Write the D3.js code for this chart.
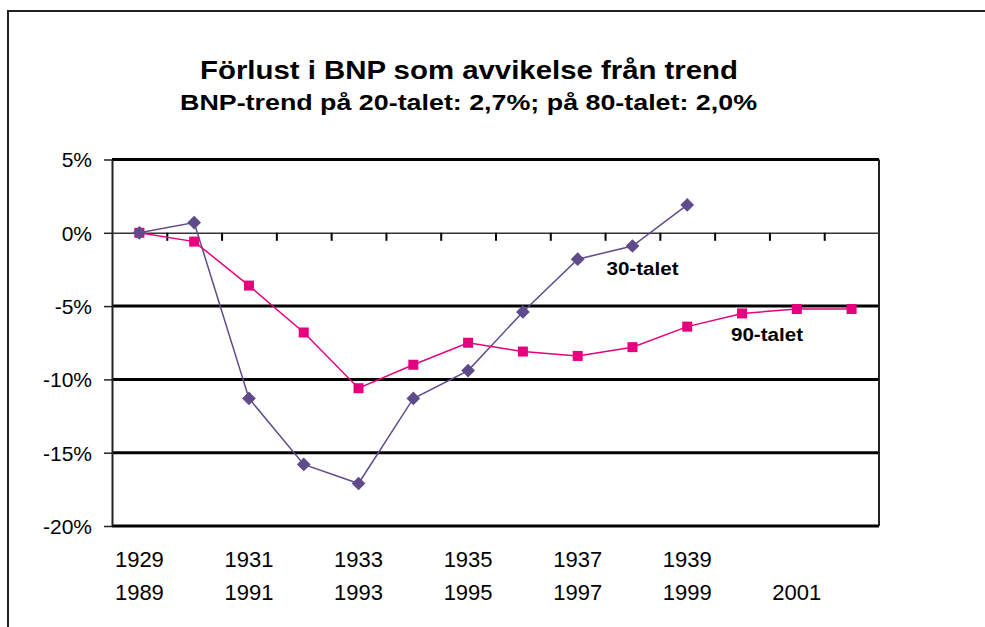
<!DOCTYPE html>
<html>
<head>
<meta charset="utf-8">
<script src="https://cdn.jsdelivr.net/npm/d3@7"></script>
<style>
  body { margin: 0; background: #fff; }
  text { font-family: "Liberation Sans", Arial, sans-serif; fill: #000; }
</style>
</head>
<body>
<div id="chart"></div>
<script>
const years30 = ["1929","1930","1931","1932","1933","1934","1935","1936","1937","1938","1939","1940","1941","1942"];
const years90 = ["1989","1990","1991","1992","1993","1994","1995","1996","1997","1998","1999","2000","2001","2002"];
const talet30 = [0, 0.7, -11.3, -15.8, -17.1, -11.3, -9.4, -5.4, -1.8, -0.9, 1.9];
const talet90 = [0, -0.6, -3.6, -6.8, -10.6, -9.0, -7.5, -8.1, -8.4, -7.8, -6.4, -5.5, -5.2, -5.2];
const row1Labels = ["1929","1931","1933","1935","1937","1939"];
const row2Labels = ["1989","1991","1993","1995","1997","1999","2001"];
const yTicks = [5, 0, -5, -10, -15, -20];

const W = 985, H = 627;
const plot = {left: 112, right: 879, top: 159.5, bottom: 526};

const svg = d3.select("#chart")
  .append("svg")
  .attr("width", W)
  .attr("height", H);

// outer frame
svg.append("rect")
  .attr("x", 8).attr("y", 11)
  .attr("width", 1000).attr("height", 700)
  .attr("fill", "none")
  .attr("stroke", "#222")
  .attr("stroke-width", 2);

svg.append("text")
  .attr("x", 469).attr("y", 79)
  .attr("text-anchor", "middle")
  .attr("font-size", 26).attr("font-weight", "bold")
  .attr("textLength", 538).attr("lengthAdjust", "spacingAndGlyphs")
  .text("Förlust i BNP som avvikelse från trend");

svg.append("text")
  .attr("x", 468.5).attr("y", 110)
  .attr("text-anchor", "middle")
  .attr("font-size", 22).attr("font-weight", "bold")
  .attr("textLength", 577).attr("lengthAdjust", "spacingAndGlyphs")
  .text("BNP-trend på 20-talet: 2,7%; på 80-talet: 2,0%");

const x = d3.scaleBand()
  .domain(years90)
  .range([plot.left, plot.right]);

const xEdge = d3.scaleLinear()
  .domain([0, years90.length])
  .range([plot.left, plot.right]);

const y = d3.scaleLinear()
  .domain([-20, 5])
  .range([plot.bottom, plot.top]);

// gridlines
svg.append("g")
  .selectAll("line")
  .data(yTicks.filter(d => d !== 0))
  .enter()
  .append("line")
  .attr("x1", plot.left).attr("x2", plot.right)
  .attr("y1", d => y(d)).attr("y2", d => y(d))
  .attr("stroke", "#000")
  .attr("stroke-width", 3);

// right border
svg.append("line")
  .attr("x1", plot.right).attr("x2", plot.right)
  .attr("y1", plot.top).attr("y2", plot.bottom)
  .attr("stroke", "#222")
  .attr("stroke-width", 2);

// y axis
const yAxis = svg.append("g")
  .attr("transform", `translate(${plot.left},0)`)
  .call(d3.axisLeft(y)
    .tickValues(yTicks)
    .tickSize(8)
    .tickPadding(12)
    .tickSizeOuter(0)
    .tickFormat(d => d + "%"));
yAxis.selectAll("line").attr("stroke", "#222").attr("stroke-width", 1.5);
yAxis.select(".domain").attr("stroke", "#222").attr("stroke-width", 2);
yAxis.selectAll("text")
  .attr("font-size", 21)
  .attr("font-family", "Liberation Sans, Arial, sans-serif")
  .attr("fill", "#000")
  .attr("dy", "0.35em");

// zero line with category ticks
const xAxis = svg.append("g")
  .attr("transform", `translate(0,${y(0)})`)
  .call(d3.axisBottom(xEdge)
    .tickValues(d3.range(1, years90.length))
    .tickSize(8)
    .tickSizeOuter(0)
    .tickFormat(""));
xAxis.select(".domain").attr("stroke", "#333").attr("stroke-width", 1.5);
xAxis.selectAll(".tick line").attr("stroke", "#000").attr("stroke-width", 2);

// category labels, two rows
svg.append("g")
  .selectAll("text")
  .data(row1Labels)
  .enter()
  .append("text")
  .attr("x", d => x(years90[years30.indexOf(d)]) + x.bandwidth() / 2)
  .attr("y", 567)
  .attr("text-anchor", "middle")
  .attr("font-size", 22)
  .text(d => d);

svg.append("g")
  .selectAll("text")
  .data(row2Labels)
  .enter()
  .append("text")
  .attr("x", d => x(d) + x.bandwidth() / 2)
  .attr("y", 600)
  .attr("text-anchor", "middle")
  .attr("font-size", 22)
  .text(d => d);

const cx = i => x(years90[i]) + x.bandwidth() / 2;
const line = d3.line().x((d, i) => cx(i)).y(d => y(d));

const purple = "#5f4b8b", magenta = "#e6007e";

svg.append("path")
  .datum(talet30)
  .attr("d", line)
  .attr("fill", "none")
  .attr("stroke", purple)
  .attr("stroke-width", 1.5);

svg.append("path")
  .datum(talet90)
  .attr("d", line)
  .attr("fill", "none")
  .attr("stroke", magenta)
  .attr("stroke-width", 1.5);

svg.append("g")
  .selectAll("rect")
  .data(talet90)
  .enter()
  .append("rect")
  .attr("x", (d, i) => cx(i) - 5)
  .attr("y", d => y(d) - 5)
  .attr("width", 10).attr("height", 10)
  .attr("fill", magenta);

svg.append("g")
  .selectAll("path")
  .data(talet30)
  .enter()
  .append("path")
  .attr("d", d3.symbol(d3.symbolDiamond2, 120))
  .attr("transform", (d, i) => `translate(${cx(i)},${y(d)})`)
  .attr("fill", purple);

svg.append("text")
  .attr("x", 642.5).attr("y", 275)
  .attr("text-anchor", "middle")
  .attr("font-size", 18).attr("font-weight", "bold")
  .attr("textLength", 72).attr("lengthAdjust", "spacingAndGlyphs")
  .text("30-talet");

svg.append("text")
  .attr("x", 767).attr("y", 341)
  .attr("text-anchor", "middle")
  .attr("font-size", 18).attr("font-weight", "bold")
  .attr("textLength", 72).attr("lengthAdjust", "spacingAndGlyphs")
  .text("90-talet");
</script>
</body>
</html>
